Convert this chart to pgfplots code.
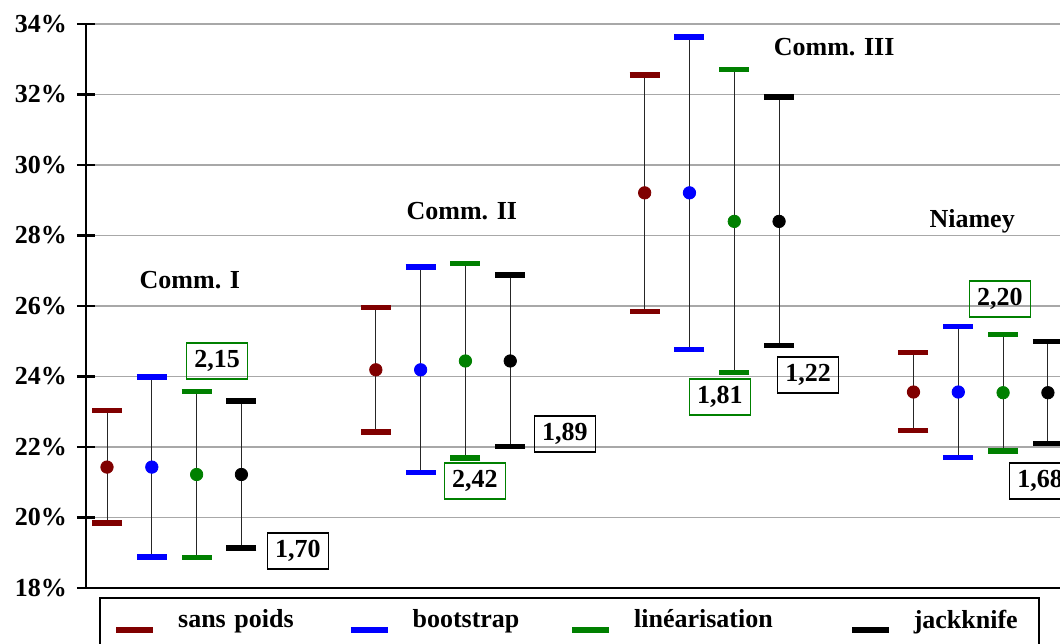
\documentclass[border=0pt]{standalone}
\usepackage{pgfplots}
\usepackage{pgfplotstable}
\pgfplotsset{compat=1.18}
\usepackage{fontspec}
\setmainfont{Liberation Serif}
\definecolor{cred}{HTML}{800000}
\definecolor{cblue}{HTML}{0000FF}
\definecolor{cgreen}{HTML}{008000}
\definecolor{gridgray}{HTML}{A8A8A8}

\pgfplotstableread{
x  y     hi    lo
0  21.43 23.04 19.84
6  24.19 25.96 22.43
12 29.21 32.55 25.84
18 23.56 24.68 22.46
}\sanspoids
\pgfplotstableread{
x  y     hi    lo
1  21.43 23.99 18.88
7  24.19 27.11 21.27
13 29.21 33.63 24.76
19 23.56 25.41 21.71
}\bootstrap
\pgfplotstableread{
x  y     hi    lo
2  21.22 23.58 18.87
8  24.44 27.20 21.69
14 28.40 32.71 24.11
20 23.54 25.19 21.89
}\linearisation
\pgfplotstableread{
x  y     hi    lo
3  21.22 23.31 19.13
9  24.44 26.88 22.01
15 28.40 31.93 24.88
21 23.54 25.00 22.10
}\jackknife

\pgfplotsset{
  ebar/.style={forget plot, only marks, mark=*, mark size=3.1pt, color=#1, mark options={draw=#1, fill=#1},
    error bars/.cd, y dir=both, y explicit,
    error bar style={black!85, line width=0.5pt},
    error mark=-, error mark options={rotate=90, #1, line width=2.7pt, mark size=7.5pt},
    /pgfplots/.cd},
}
\newcommand{\bigfont}{\fontsize{13}{15.6}\selectfont\bfseries}

\begin{document}
\begin{tikzpicture}[font=\bigfont]
\begin{axis}[
  name=ax, at={(0,0)}, anchor=south west,
  scale only axis, width=487pt, height=282pt,
  xmin=-0.469, xmax=21.27, ymin=18, ymax=34,
  axis x line*=bottom, axis y line*=left,
  axis line style={-, black, line width=1.4pt},
  xtick=\empty,
  ytick={18,20,...,34},
  ymajorgrids, grid style={gridgray, line width=0.6pt},
  tick align=center, major tick length=9pt,
  y tick style={black, line width=1.3pt},
  yticklabel={\pgfmathprintnumber[assume math mode=true]{\tick}\%},
  yticklabel style={font=\bigfont, xshift=-1.5pt},
  clip=false,
  legend columns=4,
  legend style={at={(0.01335,-0.016)}, anchor=north west, draw=black, line width=0.75pt,
    inner xsep=7pt, inner ysep=6pt, font=\bigfont,
    nodes={inner sep=0pt},
    /tikz/every odd column/.append style={column sep=11pt},
    /tikz/every even column/.append style={column sep=0pt}},
]
\addplot[ebar=cred] table[x=x, y=y, y error plus expr=\thisrow{hi}-\thisrow{y}, y error minus expr=\thisrow{y}-\thisrow{lo}] {\sanspoids};
\addplot[ebar=cblue] table[x=x, y=y, y error plus expr=\thisrow{hi}-\thisrow{y}, y error minus expr=\thisrow{y}-\thisrow{lo}] {\bootstrap};
\addplot[ebar=cgreen] table[x=x, y=y, y error plus expr=\thisrow{hi}-\thisrow{y}, y error minus expr=\thisrow{y}-\thisrow{lo}] {\linearisation};
\addplot[ebar=black] table[x=x, y=y, y error plus expr=\thisrow{hi}-\thisrow{y}, y error minus expr=\thisrow{y}-\thisrow{lo}] {\jackknife};

\addlegendimage{legend image code/.code={\draw[cred, line width=2.7pt] (0pt,2.5pt) -- (18.5pt,2.5pt);}}
\addlegendentry[text width=85pt, text depth=16pt]{sans poids}
\addlegendimage{legend image code/.code={\draw[cblue, line width=2.7pt] (0pt,2.5pt) -- (18.5pt,2.5pt);}}
\addlegendentry[text width=78.6pt, text depth=16pt]{bootstrap}
\addlegendimage{legend image code/.code={\draw[cgreen, line width=2.7pt] (0pt,2.5pt) -- (18.5pt,2.5pt);}}
\addlegendentry[text width=107.6pt, text depth=16pt]{linéarisation}
\addlegendimage{legend image code/.code={\draw[black, line width=2.7pt] (0pt,2.5pt) -- (18.5pt,2.5pt);}}
\addlegendentry[text width=55.5pt, text depth=16pt]{jackknife}

\node at (axis cs:1.85,26.74) {Comm. I};
\node at (axis cs:7.92,28.69) {Comm. II};
\node at (axis cs:16.23,33.35) {Comm. III};
\node at (axis cs:19.31,28.41) {Niamey};

\tikzset{vbox/.style={draw=#1, line width=0.7pt, minimum width=30.5pt, minimum height=18pt, inner sep=1pt}}
\node[vbox=cgreen] at (axis cs:2.46,24.44) {2,15};
\node[vbox=black] at (axis cs:4.26,19.05) {1,70};
\node[vbox=cgreen] at (axis cs:8.21,21.04) {2,42};
\node[vbox=black] at (axis cs:10.22,22.37) {1,89};
\node[vbox=cgreen] at (axis cs:13.68,23.42) {1,81};
\node[vbox=black] at (axis cs:15.65,24.04) {1,22};
\node[vbox=cgreen] at (axis cs:19.93,26.20) {2,20};
\node[vbox=black, anchor=west] at (axis cs:20.13,21.04) {1,68};
\end{axis}
\pgfresetboundingbox
\path (-43pt,-27.5pt) rectangle (487pt,294pt);
\end{tikzpicture}
\end{document}
